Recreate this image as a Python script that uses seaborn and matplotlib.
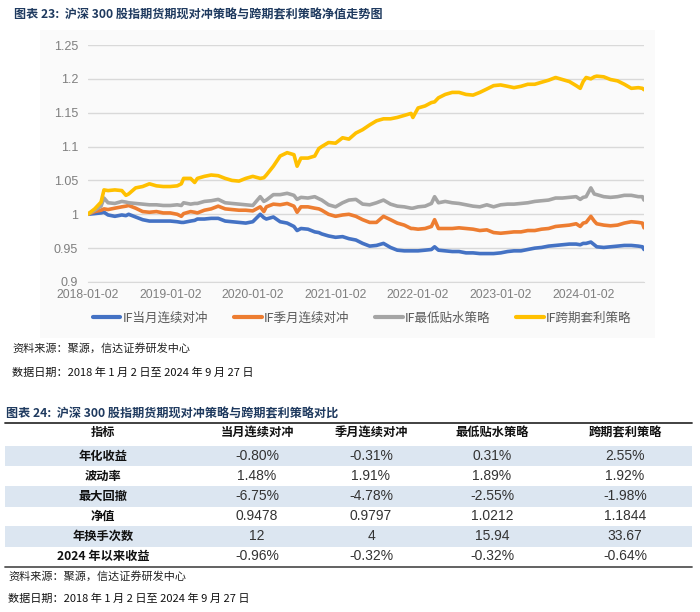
import pandas as pd
import matplotlib.pyplot as plt
import seaborn as sns
from matplotlib.lines import Line2D
from matplotlib.patches import Rectangle

# ---------------- data ----------------
dates = ['2018-01-02', '2018-02-02', '2018-03-02', '2018-03-15', '2018-04-02', '2018-05-02',
         '2018-06-02', '2018-06-20', '2018-07-02', '2018-08-02', '2018-09-02', '2018-10-02',
         '2018-11-02', '2018-12-02', '2019-01-02', '2019-02-02', '2019-02-20', '2019-03-02',
         '2019-04-02', '2019-04-20', '2019-05-02', '2019-06-02', '2019-07-02', '2019-08-02',
         '2019-09-02', '2019-10-02', '2019-11-02', '2019-12-02', '2020-01-02', '2020-02-04',
         '2020-02-20', '2020-03-02', '2020-04-02', '2020-05-02', '2020-06-02', '2020-07-02',
         '2020-07-16', '2020-08-02', '2020-09-02', '2020-10-02', '2020-10-20', '2020-11-02',
         '2020-12-02', '2021-01-02', '2021-02-02', '2021-03-02', '2021-04-02', '2021-05-02',
         '2021-06-02', '2021-07-02', '2021-08-02', '2021-09-02', '2021-10-02', '2021-11-02',
         '2021-12-02', '2021-12-10', '2022-01-02', '2022-02-02', '2022-03-02', '2022-03-16',
         '2022-04-02', '2022-05-02', '2022-06-02', '2022-07-02', '2022-08-02', '2022-09-02',
         '2022-10-02', '2022-11-02', '2022-12-02', '2023-01-02', '2023-02-02', '2023-03-02',
         '2023-04-02', '2023-05-02', '2023-06-02', '2023-07-02', '2023-08-02', '2023-09-02',
         '2023-10-02', '2023-11-02', '2023-12-02', '2023-12-20', '2024-01-02', '2024-01-15',
         '2024-02-05', '2024-02-20', '2024-03-02', '2024-04-02', '2024-05-02', '2024-06-02',
         '2024-07-02', '2024-08-02', '2024-09-02', '2024-09-20', '2024-09-27']

month_hedge = [1.000, 1.001, 1.002, 1.003, 0.999, 0.997, 0.999, 0.998, 1.000, 0.996, 0.992, 0.990,
               0.990, 0.990, 0.990, 0.989, 0.988, 0.988, 0.990, 0.991, 0.993, 0.993, 0.994, 0.994,
               0.990, 0.989, 0.988, 0.987, 0.989, 1.000, 0.995, 0.993, 0.996, 0.989, 0.987, 0.982,
               0.976, 0.979, 0.978, 0.974, 0.973, 0.971, 0.968, 0.966, 0.967, 0.964, 0.962, 0.957,
               0.953, 0.954, 0.957, 0.951, 0.947, 0.946, 0.946, 0.946, 0.946, 0.947, 0.948, 0.952,
               0.947, 0.946, 0.945, 0.945, 0.943, 0.943, 0.942, 0.942, 0.942, 0.943, 0.945, 0.946,
               0.946, 0.948, 0.950, 0.951, 0.953, 0.954, 0.955, 0.956, 0.956, 0.955, 0.957, 0.957,
               0.959, 0.955, 0.952, 0.951, 0.952, 0.953, 0.954, 0.954, 0.953, 0.952, 0.948]

quarter_hedge = [1.000, 1.004, 1.006, 1.008, 1.007, 1.009, 1.011, 1.012, 1.013, 1.009, 1.004, 1.003,
                 1.004, 1.002, 1.002, 1.000, 0.997, 1.001, 1.004, 1.003, 1.002, 1.006, 1.008, 1.012,
                 1.008, 1.007, 1.006, 1.006, 1.005, 1.011, 1.004, 1.011, 1.015, 1.014, 1.016, 1.012,
                 1.003, 1.011, 1.011, 1.009, 1.008, 1.006, 1.000, 0.997, 0.999, 1.000, 0.997, 0.992,
                 0.988, 0.988, 0.997, 0.992, 0.987, 0.984, 0.979, 0.979, 0.978, 0.979, 0.982, 0.992,
                 0.979, 0.979, 0.979, 0.980, 0.979, 0.978, 0.976, 0.977, 0.973, 0.972, 0.973, 0.974,
                 0.974, 0.976, 0.976, 0.978, 0.979, 0.982, 0.983, 0.984, 0.986, 0.982, 0.987, 0.988,
                 0.997, 0.990, 0.986, 0.984, 0.983, 0.984, 0.987, 0.989, 0.988, 0.987, 0.980]

lowest_basis = [1.000, 1.006, 1.012, 1.024, 1.017, 1.016, 1.019, 1.018, 1.017, 1.016, 1.015, 1.014,
                1.014, 1.013, 1.013, 1.014, 1.013, 1.017, 1.015, 1.016, 1.016, 1.019, 1.020, 1.022,
                1.017, 1.016, 1.015, 1.014, 1.013, 1.026, 1.019, 1.021, 1.029, 1.029, 1.031, 1.028,
                1.022, 1.025, 1.024, 1.026, 1.023, 1.021, 1.014, 1.011, 1.017, 1.021, 1.022, 1.015,
                1.014, 1.017, 1.021, 1.015, 1.012, 1.011, 1.009, 1.009, 1.011, 1.012, 1.016, 1.026,
                1.017, 1.019, 1.017, 1.016, 1.014, 1.012, 1.011, 1.014, 1.011, 1.014, 1.015, 1.015,
                1.016, 1.017, 1.019, 1.020, 1.021, 1.024, 1.024, 1.025, 1.026, 1.022, 1.025, 1.026,
                1.039, 1.030, 1.029, 1.026, 1.025, 1.026, 1.028, 1.028, 1.026, 1.026, 1.021]

calendar_arb = [1.000, 1.008, 1.018, 1.036, 1.035, 1.036, 1.035, 1.028, 1.030, 1.039, 1.041, 1.045,
                1.042, 1.041, 1.041, 1.042, 1.045, 1.053, 1.053, 1.047, 1.053, 1.056, 1.058, 1.057,
                1.053, 1.050, 1.049, 1.053, 1.056, 1.053, 1.054, 1.058, 1.071, 1.086, 1.091, 1.088,
                1.071, 1.083, 1.083, 1.086, 1.097, 1.100, 1.106, 1.105, 1.113, 1.111, 1.120, 1.125,
                1.132, 1.138, 1.141, 1.141, 1.143, 1.146, 1.149, 1.143, 1.157, 1.160, 1.165, 1.166,
                1.172, 1.177, 1.180, 1.180, 1.177, 1.176, 1.180, 1.185, 1.190, 1.191, 1.189, 1.187,
                1.189, 1.192, 1.192, 1.195, 1.198, 1.202, 1.199, 1.196, 1.190, 1.186, 1.196, 1.202,
                1.200, 1.203, 1.204, 1.203, 1.199, 1.197, 1.192, 1.186, 1.187, 1.186, 1.184]

series_names = ['IF当月连续对冲', 'IF季月连续对冲', 'IF最低贴水策略', 'IF跨期套利策略']
series_colors = ['#4472c4', '#ed7d31', '#a5a5a5', '#ffc000']
ytick_values = [0.9, 0.95, 1.0, 1.05, 1.1, 1.15, 1.2, 1.25]
ytick_labels = ['0.9', '0.95', '1', '1.05', '1.1', '1.15', '1.2', '1.25']
xtick_labels = ['2018-01-02', '2019-01-02', '2020-01-02', '2021-01-02',
                '2022-01-02', '2023-01-02', '2024-01-02']

table_header = ['指标', '当月连续对冲', '季月连续对冲', '最低贴水策略', '跨期套利策略']
row_labels = ['年化收益', '波动率', '最大回撤', '净值', '年换手次数', '2024 年以来收益']
col_month = ['-0.80%', '1.48%', '-6.75%', '0.9478', '12', '-0.96%']
col_quarter = ['-0.31%', '1.91%', '-4.78%', '0.9797', '4', '-0.32%']
col_lowest = ['0.31%', '1.89%', '-2.55%', '1.0212', '15.94', '-0.32%']
col_calendar = ['2.55%', '1.92%', '-1.98%', '1.1844', '33.67', '-0.64%']

source_text = '资料来源：聚源，信达证券研发中心'
date_text = '数据日期：2018 年 1 月 2 日至 2024 年 9 月 27 日'
title_23 = '图表 23:  沪深 300 股指期货期现对冲策略与跨期套利策略净值走势图'
title_24 = '图表 24:  沪深 300 股指期货期现对冲策略与跨期套利策略对比'

# ---------------- style ----------------
sns.set_style('white')
CJK = ['Noto Sans CJK SC', 'DejaVu Sans']
NUM = ['Liberation Sans', 'DejaVu Sans']
plt.rcParams['font.family'] = ['Liberation Sans', 'Noto Sans CJK SC', 'DejaVu Sans']

W, H = 700, 612


def fx(px):
    return px / W


def fy(py):
    return 1 - py / H


TITLE_C = '#1f3a5f'
AXIS_C = '#7f7f7f'

fig = plt.figure(figsize=(7, 6.12), dpi=100)

# faint chart panel like the pasted excel chart
fig.add_artist(Rectangle((fx(40), fy(338)), fx(615), 308 / H, transform=fig.transFigure,
                         facecolor='#fafafa', edgecolor='none', zorder=0))

ax = fig.add_axes([fx(87.7), fy(282), fx(644 - 87.7), (282 - 45) / H])
ax.set_facecolor('none')

df = pd.DataFrame({'date': pd.to_datetime(dates)})
for name, vals in zip(series_names, [month_hedge, quarter_hedge, lowest_basis, calendar_arb]):
    df[name] = vals
df_long = df.melt(id_vars='date', var_name='series', value_name='value')

sns.lineplot(data=df_long, x='date', y='value', hue='series', hue_order=series_names,
             palette=series_colors, linewidth=2.6, ax=ax)

ax.set_xlim(pd.Timestamp('2018-01-02'), pd.Timestamp('2024-09-27'))
ax.set_ylim(0.9, 1.25)
ax.set_yticks(ytick_values)
ax.set_yticklabels(ytick_labels)
ax.set_xticks(pd.to_datetime(xtick_labels))
ax.set_xticklabels(xtick_labels)
ax.set_xlabel('')
ax.set_ylabel('')
ax.yaxis.grid(True, color='#d9d9d9', linewidth=1)
ax.set_axisbelow(True)
sns.despine(ax=ax, left=True, top=True, right=True)
ax.spines['bottom'].set_color('#d9d9d9')
ax.tick_params(axis='y', length=0, pad=7, labelsize=9, labelcolor=AXIS_C)
ax.tick_params(axis='x', length=3, width=1, color='#d9d9d9', pad=2, labelsize=8.8,
               labelcolor=AXIS_C, direction='out')

handles, labels = ax.get_legend_handles_labels()
leg = ax.legend(handles, labels, ncol=4, frameon=False, loc='center',
                bbox_to_anchor=(fx(362), fy(318)), bbox_transform=fig.transFigure,
                handlelength=2.2, handletextpad=0.15, columnspacing=2.1,
                prop={'family': CJK, 'size': 9})
for line in leg.get_lines():
    line.set_linewidth(3)
for t in leg.get_texts():
    t.set_color('#595959')

# ---------------- texts ----------------
fig.text(fx(14), fy(15), title_23, family=CJK, fontsize=8.7, fontweight='bold',
         color=TITLE_C, va='center', ha='left')
fig.text(fx(12), fy(348), source_text, family=CJK, fontsize=8, color='#222222',
         style='italic', va='center')
fig.text(fx(12), fy(373), date_text, family=CJK, fontsize=8, color='#111111',
         style='italic', va='center')

# ---------------- table ----------------
fig.text(fx(6), fy(414), title_24, family=CJK, fontsize=8.7, fontweight='bold',
         color=TITLE_C, va='center', ha='left')
fig.add_artist(Line2D([fx(5), fx(692)], [fy(423), fy(423)], transform=fig.transFigure,
                      color='#333333', linewidth=1.3))

col_x = [103, 257, 371, 492, 625]
row_y = [456, 476.5, 496.5, 516.5, 536.5, 556.5]
row_h = 20.2
for i, yy in enumerate(row_y):
    if i % 2 == 0:
        fig.add_artist(Rectangle((fx(5), fy(yy + row_h / 2)), fx(687), row_h / H,
                                 transform=fig.transFigure, facecolor='#dce6f1',
                                 edgecolor='none', zorder=0))

for cx, head in zip(col_x, table_header):
    fig.text(fx(cx), fy(432.5), head, family=CJK, fontsize=8.8, fontweight='bold',
             color='#111111', ha='center', va='center')

columns = [col_month, col_quarter, col_lowest, col_calendar]
for i, yy in enumerate(row_y):
    fig.text(fx(col_x[0]), fy(yy), row_labels[i], family=CJK, fontsize=8.8,
             fontweight='bold', color='#111111', ha='center', va='center')
    for cx, col in zip(col_x[1:], columns):
        fig.text(fx(cx), fy(yy), col[i], family=NUM, fontsize=10, color='#333333',
                 ha='center', va='center')

fig.add_artist(Line2D([fx(5), fx(692)], [fy(566.5), fy(566.5)], transform=fig.transFigure,
                      color='#555555', linewidth=1.3))

fig.text(fx(8), fy(576), source_text, family=CJK, fontsize=8, color='#222222',
         style='italic', va='center')
fig.text(fx(8), fy(599), date_text, family=CJK, fontsize=8, color='#111111',
         style='italic', va='center')

fig.savefig('out.png', dpi=100)
plt.close('all')
